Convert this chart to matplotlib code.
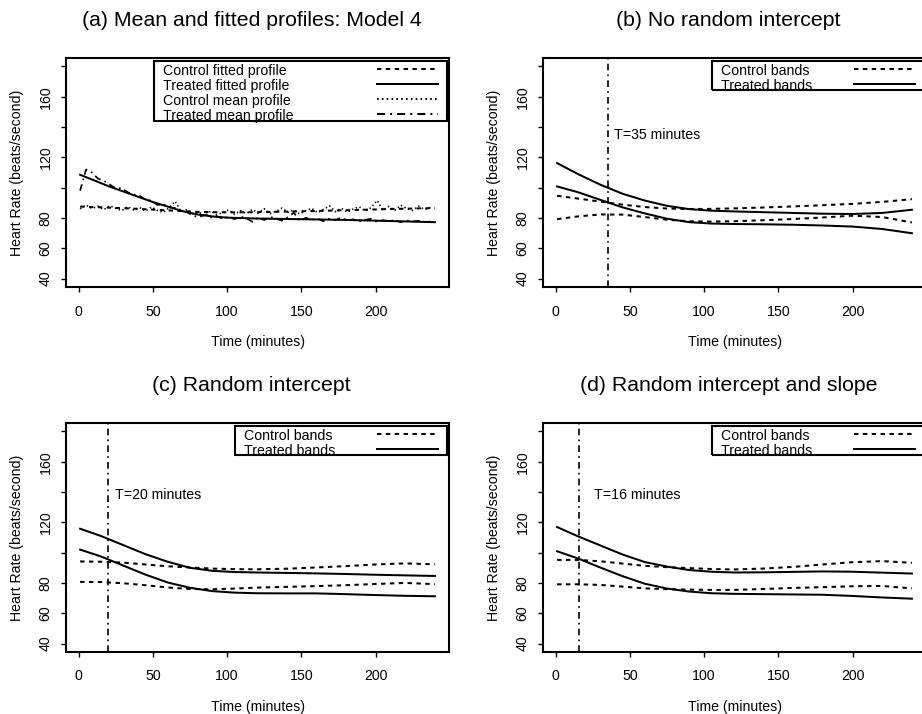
import matplotlib
matplotlib.use("Agg")
import matplotlib.pyplot as plt
from matplotlib.patches import Rectangle
from matplotlib.lines import Line2D

plt.rcParams["font.family"] = ["Liberation Sans", "DejaVu Sans"]

# ---- panel (a): mean and fitted profiles ----
fit_time = [1, 10, 20, 30, 40, 50, 60, 70, 80, 90, 100, 120, 140, 160, 180, 200, 220, 240]
treated_fit = [108.5, 105, 101, 97.5, 94, 90.5, 87.5, 84.5, 82.3, 81, 80.2, 79.6,
               79.3, 79, 78.7, 78.2, 77.7, 77.2]
control_fit = [87.5, 87.2, 86.8, 86.4, 86, 85.5, 85, 84.5, 84, 83.8, 83.7, 83.8,
               84.2, 84.6, 85.1, 85.6, 86.1, 86.5]

mean_time = [1, 5, 9, 13, 17, 21, 25, 29, 33, 37, 41, 45, 49, 53, 57, 61, 65, 69, 73, 77,
             81, 85, 89, 93, 97, 101, 105, 109, 113, 117, 121, 125, 129, 133, 137, 141,
             145, 149, 153, 157, 161, 165, 169, 173, 177, 181, 185, 189, 193, 197, 201,
             205, 209, 213, 217, 221, 225, 229, 233, 237]
treated_mean = [98, 112, 110, 106, 104.5, 102, 99.5, 99.8, 97, 95.5, 94.8, 92, 91.5, 88.5,
                89.2, 87, 86.5, 84.5, 83.8, 81.5, 80.5, 82, 80.3, 81.2, 79.5, 80.6, 79.2,
                81, 79.8, 77.5, 80.2, 78.6, 80.8, 79.4, 78.2, 80.5, 83.5, 78, 80.1, 78.9,
                79.6, 77.8, 79.5, 78.6, 80.3, 78.2, 79.1, 77.6, 78.8, 79.4, 77.3, 78.5,
                77.9, 78.6, 77.2, 78.3, 77.6, 78.1, 77.3, 77.8]
control_mean = [86, 88.5, 86.2, 87.8, 85.5, 88, 86.4, 84.8, 87.5, 85.2, 86.9, 84.5, 87.2,
                85, 83.6, 86.8, 91, 84.2, 85.5, 82.8, 83.9, 81.2, 84.6, 82.1, 83.5, 85.3,
                82.4, 84.8, 82.9, 85.6, 83.2, 86.1, 82.8, 84.4, 86.5, 83.7, 85.2, 82.6,
                84.9, 86.3, 83.5, 85.7, 88, 84.1, 86.4, 83.8, 85.9, 87.4, 84.6, 86.8, 91.5,
                85.3, 87.6, 85.1, 88.4, 86.2, 84.9, 87.8, 85.6, 86.9]

# ---- panels (b)-(d): confidence bands ----
band_time = [1, 15, 30, 45, 60, 75, 90, 105, 120, 140, 160, 180, 200, 220, 240]

b_treated_up = [116.2, 109, 102, 96, 91.5, 88, 85.8, 84.8, 84.3, 83.8, 83.3, 82.8, 82.6, 83.3, 85.4]
b_treated_lo = [100.8, 97, 92, 87, 83, 79.5, 77.2, 76.3, 76, 75.8, 75.5, 75, 74.3, 72.7, 69.9]
b_control_up = [94.6, 92.8, 90.8, 88.8, 87.2, 86.2, 85.9, 86, 86.3, 86.9, 87.6, 88.4, 89.3, 90.6, 92.4]
b_control_lo = [79.2, 81, 82.3, 82.2, 80.6, 78.8, 77.8, 77.6, 77.8, 78.5, 79.3, 80.3, 81.5, 80.6, 77]

c_treated_up = [115.8, 111, 105, 99, 94, 90, 88, 87.2, 86.9, 86.6, 86.3, 85.9, 85.4, 85, 84.6]
c_treated_lo = [102, 97.5, 91.5, 85.5, 80.3, 76.8, 74.6, 73.6, 73.2, 73.1, 73.1, 72.6, 72, 71.5, 71.2]
c_control_up = [94.2, 94, 93.4, 92.2, 91, 90.2, 89.5, 89.1, 89, 89.4, 90.2, 91.1, 92.2, 92.9, 92.3]
c_control_lo = [80.7, 80.6, 79.8, 78.5, 77, 76, 75.8, 76.3, 76.9, 77.4, 77.9, 78.5, 79.3, 80, 79.2]

d_treated_up = [116.9, 110.8, 104.8, 98.8, 93.8, 90.8, 88.5, 87.4, 86.9, 87, 87.3, 87.6, 87.4, 86.8, 86.2]
d_treated_lo = [100.9, 96.2, 90.2, 84.5, 79.5, 76.3, 74.3, 73.2, 72.8, 72.6, 72.4, 72.2, 71.4, 70.4, 69.6]
d_control_up = [95.2, 95.2, 94.3, 92.8, 91.3, 90.4, 89.8, 89.2, 88.9, 89.5, 90.6, 92.2, 93.7, 94.4, 93.3]
d_control_lo = [79.1, 79.1, 78.7, 77.6, 76.4, 75.9, 75.6, 75.4, 75.4, 76, 76.7, 77.2, 77.8, 78, 76.4]

cut_times = [35, 20, 16]
cut_labels = ["T=35 minutes", "T=20 minutes", "T=16 minutes"]
cut_text_pos = [(39.6, 134.5), (24.4, 138.3), (25.7, 138.3)]

titles = ["(a) Mean and fitted profiles: Model 4", "(b) No random intercept",
          "(c) Random intercept", "(d) Random intercept and slope"]

y_ticks = [40, 60, 80, 100, 120, 140, 160, 180]
y_ticklabels = ["40", "60", "80", "", "120", "", "160", ""]
x_ticks = [0, 50, 100, 150, 200]

FS = 10.2
DASH = (0, (2.2, 2.2))
DOT = (0, (0.8, 1.6))
DASHDOT = (0, (4, 2.5, 1, 2.5))
LW = 1.45

W, H = 922, 714
# axes boxes in pixels: left, top, width, height
boxes = [(66, 58, 383, 229), (543, 58, 383, 229), (66, 423, 383, 229), (543, 423, 383, 229)]

fig = plt.figure(figsize=(W / 100, H / 100), dpi=100)
axes = []
for (l, t, w, h) in boxes:
    ax = fig.add_axes([l / W, 1 - (t + h) / H, w / W, h / H])
    axes.append(ax)


def style(ax, title, w, h):
    ax.set_xlim(-8.5, 249.5)
    ax.set_ylim(34.4, 185.6)
    ax.set_yticks(y_ticks)
    ax.set_yticklabels(y_ticklabels, rotation=90, va="center")
    ax.set_xticks(x_ticks)
    ax.tick_params(direction="out", length=3.6, width=1.0, labelsize=FS, pad=6)
    ax.tick_params(axis="x", pad=9)
    for s in ax.spines.values():
        s.set_linewidth(1.5)
    ax.text(0.5, -55 / h, "Time (minutes)", transform=ax.transAxes,
            ha="center", va="center", fontsize=FS)
    ax.text(-49 / w, 0.5, "Heart Rate (beats/second)", transform=ax.transAxes,
            ha="center", va="center", rotation=90, fontsize=FS)
    ax.text(0.5 - 6 / w, 1 + 37 / h, title, transform=ax.transAxes,
            ha="center", va="center", fontsize=15.3)


def legend_box(ax, labels, styles, left_px, w, h):
    n = len(labels)
    top = 3
    bottom = 3 + 15 * n - (1 if n == 2 else 0)
    right = w - 2
    ax.add_patch(Rectangle((left_px / w, 1 - bottom / h), (right - left_px) / w,
                           (bottom - top) / h, transform=ax.transAxes, fill=False,
                           lw=1.5, ec="black", zorder=5, clip_on=False))
    for i, (lab, ls) in enumerate(zip(labels, styles)):
        base = 17 + 15 * i
        ax.text((left_px + 9) / w, 1 - base / h, lab, transform=ax.transAxes,
                ha="left", va="baseline", fontsize=FS, zorder=4, clip_on=True)
        ax.add_line(Line2D([(right - 70) / w, (right - 9) / w],
                           [1 - (base - 6) / h] * 2, transform=ax.transAxes,
                           color="black", lw=LW, linestyle=ls, zorder=4))


# panel (a)
ax = axes[0]
ax.plot(mean_time, control_mean, color="black", lw=1.2, linestyle=DOT)
ax.plot(mean_time, treated_mean, color="black", lw=1.2, linestyle=DASHDOT)
ax.plot(fit_time, control_fit, color="black", lw=LW, linestyle=DASH)
ax.plot(fit_time, treated_fit, color="black", lw=LW, linestyle="-")
style(ax, titles[0], 383, 229)
legend_box(ax, ["Control fitted profile", "Treated fitted profile",
                "Control mean profile", "Treated mean profile"],
           [DASH, "-", DOT, DASHDOT], 88, 383, 229)

bands = [
    (b_treated_up, b_treated_lo, b_control_up, b_control_lo),
    (c_treated_up, c_treated_lo, c_control_up, c_control_lo),
    (d_treated_up, d_treated_lo, d_control_up, d_control_lo),
]
for k in range(3):
    ax = axes[k + 1]
    tu, tl, cu, cl = bands[k]
    ax.plot(band_time, cu, color="black", lw=LW, linestyle=DASH)
    ax.plot(band_time, cl, color="black", lw=LW, linestyle=DASH)
    ax.plot(band_time, tu, color="black", lw=LW, linestyle="-")
    ax.plot(band_time, tl, color="black", lw=LW, linestyle="-")
    ax.axvline(cut_times[k], color="black", lw=1.2, linestyle=DASHDOT)
    tx, ty = cut_text_pos[k]
    ax.text(tx, ty, cut_labels[k], ha="left", va="center", fontsize=FS)
    style(ax, titles[k + 1], 383, 229)
    legend_box(ax, ["Control bands", "Treated bands"], [DASH, "-"], 169, 383, 229)

fig.savefig("out.png", dpi=100)
